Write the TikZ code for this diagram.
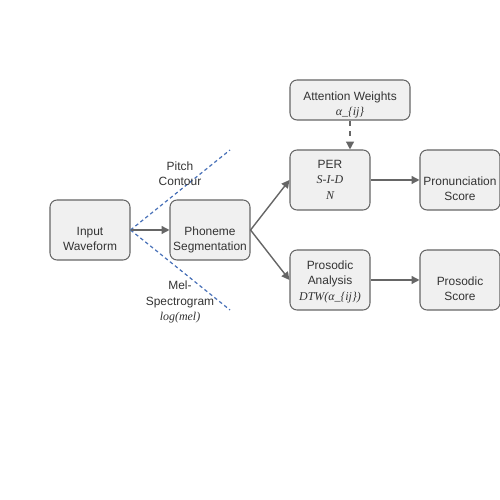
\documentclass[tikz,border=0pt]{standalone}
\usepackage{fontspec}
\setmainfont{Liberation Sans}
\newfontfamily\mathlike{Liberation Serif}
\usetikzlibrary{arrows.meta}

\definecolor{boxfill}{HTML}{F0F0F0}
\definecolor{boxline}{HTML}{666666}
\definecolor{featblue}{HTML}{4A72B8}
\newcommand{\mathtxt}[1]{{\mathlike\itshape #1}}
% lowers the lines inside a box without changing the box size
\newcommand{\lowtxt}[2]{\raisebox{-#1}[\height][\depth]{\begin{tabular}{@{}c@{}}#2\end{tabular}}}

\tikzset{
  block/.style={draw=boxline, fill=boxfill, rounded corners=1.4mm, line width=0.6pt,
    minimum width=1.6cm, minimum height=1.2cm, inner sep=1pt,
    font=\fontsize{6.8}{8.7}\selectfont, text=black!80},
  flow/.style={-{Triangle[length=4.5pt,width=4.5pt]}, draw=boxline, line width=0.8pt},
  feature/.style={draw=featblue, dash pattern=on 2pt off 1.6pt, line width=0.7pt},
  featlabel/.style={align=center, font=\fontsize{6.8}{8.7}\selectfont, text=black!80}
}

\begin{document}
\begin{tikzpicture}
                \useasboundingbox (0,0) rectangle (10,10);
                \node[block] (Input) at (1.8,5.4) {\lowtxt{5.5pt}{Input\\Waveform}};
                \node[block] (PhSeg) at (4.2,5.4) {\lowtxt{5.5pt}{Phoneme\\Segmentation}};
                \node[block] (PER) at (6.6,6.4) {\lowtxt{0.5pt}{PER\\\mathtxt{S-I-D}\\\mathtxt{N}}};
                \node[block, minimum width=2.4cm, minimum height=0.8cm] (Attn) at (7.0,8.0) {\lowtxt{3pt}{Attention Weights\\\mathtxt{α\_\{ij\}}}};
                \node[block] (PronScore) at (9.2,6.4) {\lowtxt{5.5pt}{Pronunciation\\Score}};
                \node[block] (ProsAna) at (6.6,4.4) {\lowtxt{1pt}{Prosodic\\Analysis\\\mathtxt{DTW(α\_\{ij\})}}};
                \node[block] (ProsScore) at (9.2,4.4) {\lowtxt{5.5pt}{Prosodic\\Score}};
                \coordinate (PitchEnd) at (4.6,7.0);
                \coordinate (MelEnd) at (4.6,3.8);
                \draw[feature] (Input.east) to (PitchEnd);
                \draw[feature] (Input.east) to (MelEnd);
                \node[featlabel] (Pitch) at (3.6,6.52) {Pitch\\Contour};
                \node[featlabel] (Mel) at (3.6,3.96) {Mel-\\Spectrogram\\\mathtxt{log(mel)}};
                \draw[flow] (Input) to (PhSeg);
                \draw[flow] (PhSeg.east) to (PER.west);
                \draw[flow] (PhSeg.east) to (ProsAna.west);
                \draw[flow, dashed] (Attn.south) to (Attn.south |- PER.north);
                \draw[flow] (PER) to (PronScore);
                \draw[flow] (ProsAna) to (ProsScore);
            \end{tikzpicture}
\end{document}
